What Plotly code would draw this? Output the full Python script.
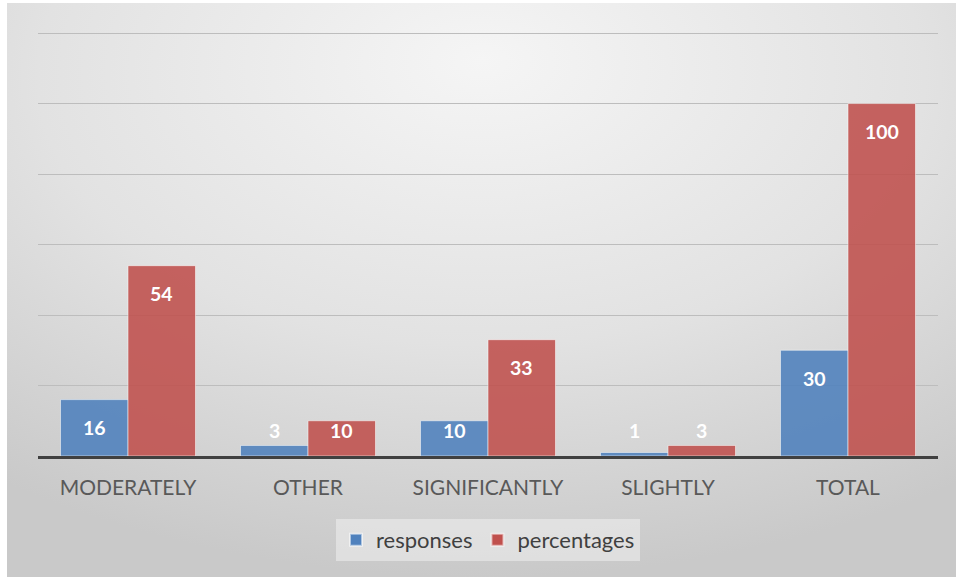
import base64
import plotly.graph_objects as go

# Survey results by category
categories = ["MODERATELY", "OTHER", "SIGNIFICANTLY", "SLIGHTLY", "TOTAL"]
responses = [16, 3, 10, 1, 30]
percentages = [54, 10, 33, 3, 100]

BLUE = "#4F81BD"
RED = "#C0504D"
FONT = "Lato, 'Open Sans', sans-serif"

# soft radial background behind the whole chart
svg = (
    "<svg xmlns='http://www.w3.org/2000/svg' width='100' height='100' preserveAspectRatio='none'>"
    "<defs><radialGradient id='g' cx='50%' cy='15%' r='85%' fx='50%' fy='10%'>"
    "<stop offset='0' stop-color='#f5f5f5'/>"
    "<stop offset='0.55' stop-color='#e2e2e2'/>"
    "<stop offset='1' stop-color='#c9c9c9'/>"
    "</radialGradient></defs>"
    "<rect width='100' height='100' fill='url(#g)'/></svg>"
)
bg_src = "data:image/svg+xml;base64," + base64.b64encode(svg.encode()).decode()

fig = go.Figure()
fig.add_trace(go.Bar(
    name="responses", x=categories, y=responses,
    marker=dict(color=BLUE, opacity=0.88, line=dict(color="rgba(255,255,255,0.55)", width=1)),
    hoverinfo="x+y",
))
fig.add_trace(go.Bar(
    name="percentages", x=categories, y=percentages,
    marker=dict(color=RED, opacity=0.88, line=dict(color="rgba(255,255,255,0.55)", width=1)),
    hoverinfo="x+y",
))

# value labels: just inside the top of the bar, lifted above short bars
annotations = []
for series, offset in ((responses, -0.1875), (percentages, 0.1875)):
    for i, v in enumerate(series):
        annotations.append(dict(
            x=i + offset, y=max(v - 8.0, 7.1), xref="x", yref="y",
            text=f"<b>{v}</b>", showarrow=False, yanchor="middle",
            font=dict(family=FONT, size=19.5, color="white"),
        ))

W, H = 958, 577
L, R, T, B = 38, 20, 32, 121
pw, ph = W - L - R, H - T - B
YMAX = 120.3

fig.update_layout(
    width=W, height=H,
    margin=dict(l=L, r=R, t=T, b=B, pad=0),
    paper_bgcolor="white",
    plot_bgcolor="rgba(0,0,0,0)",
    barmode="group", bargap=0.25, bargroupgap=0,
    font=dict(family=FONT, color="#595959"),
    showlegend=True,
    legend=dict(
        orientation="h", x=0.5, xanchor="center", y=-84 / ph, yanchor="middle",
        bgcolor="rgba(240,240,240,0.55)", borderwidth=0,
        font=dict(family=FONT, size=22, color="#404040"),
        itemsizing="constant",
    ),
    xaxis=dict(
        type="category", showline=True, linecolor="#404040", linewidth=3,
        ticks="", ticklabelstandoff=11,
        tickfont=dict(family=FONT, size=21, color="#595959"),
        showgrid=False, zeroline=False,
    ),
    yaxis=dict(
        range=[0, YMAX], dtick=20, showticklabels=False, ticks="",
        showgrid=True, gridcolor="#bdbdbd", gridwidth=1, zeroline=False,
    ),
    annotations=annotations,
    images=[dict(
        source=bg_src, xref="paper", yref="paper",
        x=(7 - L) / pw, y=(H - B - 3) / ph,
        sizex=(956 - 7) / pw, sizey=(H - 3) / ph,
        xanchor="left", yanchor="top", sizing="stretch", layer="below",
    )],
)

fig.write_html("out.html")
